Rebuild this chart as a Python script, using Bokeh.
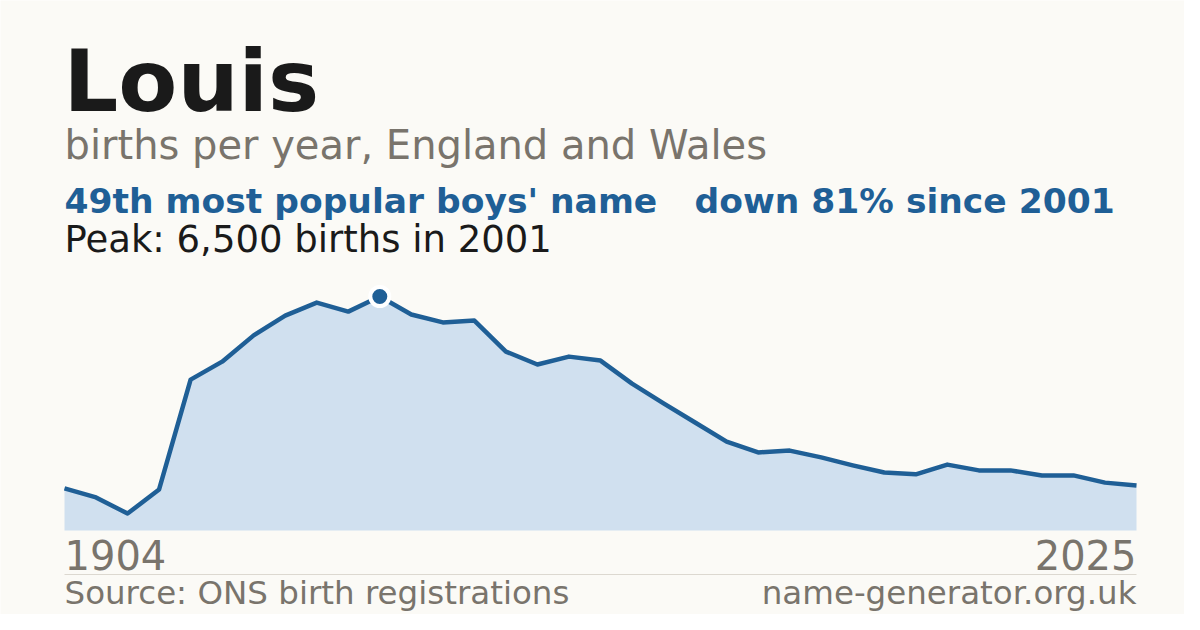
from bokeh.plotting import figure
from bokeh.models import Range1d, Label
from bokeh.embed import file_html
from bokeh.resources import INLINE

# ---- data ----
years = list(range(1991, 2026))
births = [1170, 920, 470, 1140, 4190, 4690, 5420, 5970, 6330, 6080,
          6500, 6000, 5780, 5830, 4970, 4610, 4830, 4720, 4080, 3530,
          3000, 2470, 2170, 2220, 2030, 1810, 1610, 1560, 1830, 1670,
          1670, 1530, 1530, 1330, 1250]
name = "Louis"
subtitle = "births per year, England and Wales"
rank_text = "49th most popular boys' name"
change_text = "down 81% since 2001"
peak_text = "Peak: 6,500 births in 2001"
start_label = "1904"
end_label = "2025"
source_text = "Source: ONS birth registrations"
site_text = "name-generator.org.uk"

# ---- style ----
BG = "#fbfaf6"
BLUE = "#1f5f96"
FILL = "#d0e0ef"
DARK = "#1a1a1a"
GRAY = "#79746c"
RULE = "#dcd8d0"
FONT = "DejaVu Sans"

W, H, OFF = 1184, 614, 0
LEFT_PX, RIGHT_PX, BASE_PX, PEAK_PX = 64, 1136, 530, 296

peak_val = max(births)
peak_year = years[births.index(peak_val)]
ppx = (RIGHT_PX - LEFT_PX) / (years[-1] - years[0])   # px per year
ppy = (BASE_PX - PEAK_PX) / peak_val                  # px per birth

x0 = years[0] - (LEFT_PX - OFF) / ppx
x1 = x0 + W / ppx
y0 = -(OFF + H - BASE_PX) / ppy
y1 = y0 + H / ppy


def sx(px):
    return x0 + (px - OFF) / ppx


def sy(py):
    return y0 + (OFF + H - py) / ppy


p = figure(width=W, height=H, output_backend="svg", toolbar_location=None,
           x_range=Range1d(x0, x1), y_range=Range1d(y0, y1),
           x_axis_location=None, y_axis_location=None,
           min_border=0, min_border_left=0, min_border_right=0,
           min_border_top=0, min_border_bottom=0,
           background_fill_color=BG, border_fill_color=BG,
           outline_line_color=None)
p.grid.visible = False

p.varea(x=years, y1=[0] * len(years), y2=births, fill_color=FILL)
p.line(x=years, y=births, line_color=BLUE, line_width=4.5, line_join="round")
p.scatter(x=[peak_year], y=[peak_val], size=19, fill_color=BLUE,
          line_color="white", line_width=4)

# rule under year labels
p.segment(x0=[sx(LEFT_PX)], y0=[sy(574)], x1=[sx(RIGHT_PX)], y1=[sy(574)],
          line_color=RULE, line_width=1)

BASELINE_FIX = 0.38  # rendered alphabetic baseline sits ~0.38em lower


def lab(text, px, py, size, color, bold=False, align="left"):
    p.add_layout(Label(x=sx(px), y=sy(py - BASELINE_FIX * size), text=text,
                       text_font=FONT,
                       text_font_size=f"{size}px", text_color=color,
                       text_font_style="bold" if bold else "normal",
                       text_align=align, text_baseline="alphabetic"))


lab(name, 63, 113, 86, DARK, bold=True)
lab(subtitle, 64, 160, 40, GRAY)
lab(rank_text, 64, 214, 34.5, BLUE, bold=True)
lab(change_text, 694, 214, 34.5, BLUE, bold=True)
lab(peak_text, 64, 253, 37, DARK)
lab(start_label, 64, 570, 40, GRAY)
lab(end_label, 1136, 570, 40, GRAY, align="right")
lab(source_text, 64, 605, 32.5, GRAY)
lab(site_text, 1136, 605, 32.5, GRAY, align="right")

open("out.html", "w").write(file_html(p, INLINE))
